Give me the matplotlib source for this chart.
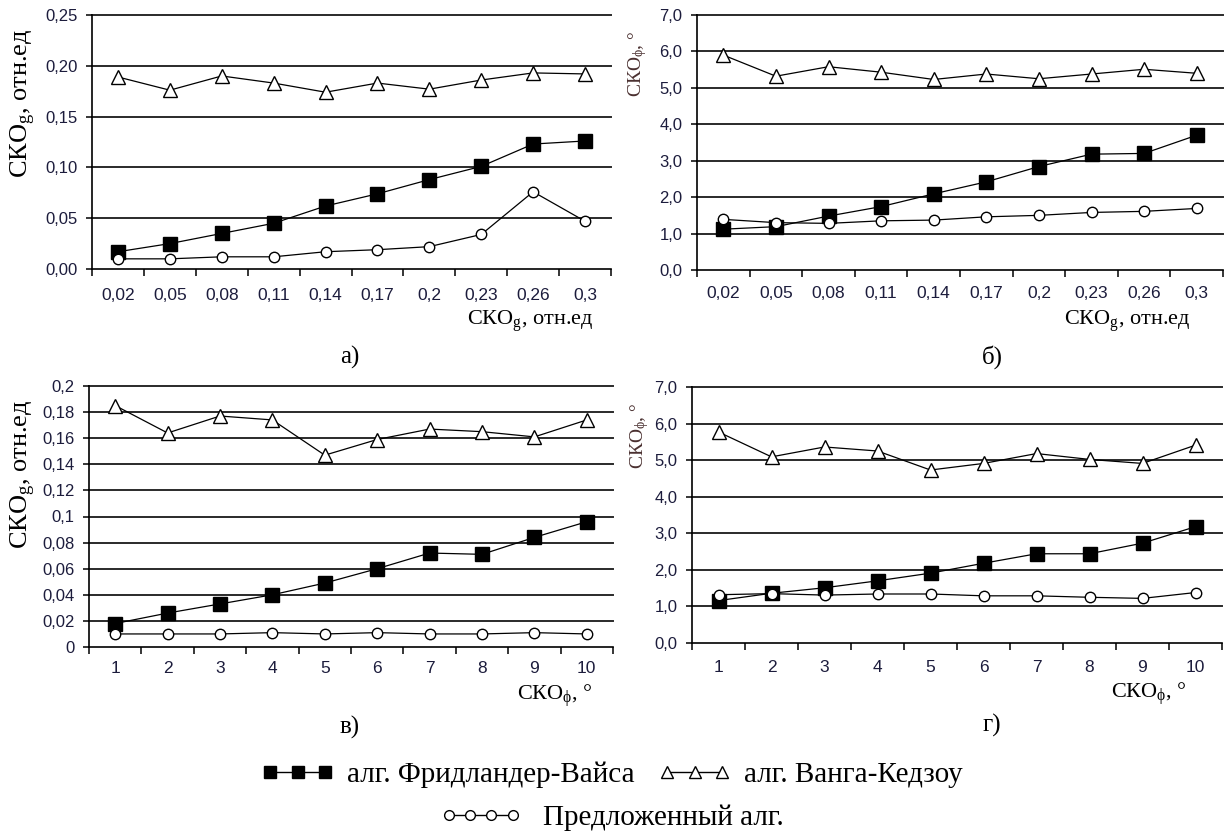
import matplotlib
matplotlib.use("Agg")
import matplotlib.pyplot as plt
from matplotlib.lines import Line2D
import numpy as np

plt.rcParams['font.family'] = ['Liberation Sans', 'DejaVu Sans']
plt.rcParams['mathtext.fontset'] = 'custom'
plt.rcParams['mathtext.rm'] = 'Liberation Serif'
plt.rcParams['mathtext.it'] = 'Liberation Serif:italic'

# данные
x_g_labels = ["0,02", "0,05", "0,08", "0,11", "0,14", "0,17", "0,2", "0,23", "0,26", "0,3"]
x_phi_labels = ["1", "2", "3", "4", "5", "6", "7", "8", "9", "10"]

a_fw = [0.017, 0.025, 0.035, 0.045, 0.062, 0.074, 0.088, 0.101, 0.123, 0.126]
a_wk = [0.189, 0.176, 0.190, 0.183, 0.174, 0.183, 0.177, 0.186, 0.193, 0.192]
a_pr = [0.010, 0.010, 0.012, 0.012, 0.017, 0.019, 0.022, 0.034, 0.076, 0.047]

b_fw = [1.12, 1.19, 1.48, 1.74, 2.09, 2.42, 2.84, 3.18, 3.20, 3.70]
b_wk = [5.90, 5.32, 5.58, 5.43, 5.23, 5.38, 5.25, 5.38, 5.51, 5.40]
b_pr = [1.39, 1.30, 1.28, 1.35, 1.37, 1.46, 1.50, 1.58, 1.61, 1.69]

c_fw = [0.018, 0.026, 0.033, 0.040, 0.049, 0.060, 0.072, 0.071, 0.084, 0.096]
c_wk = [0.185, 0.164, 0.177, 0.174, 0.147, 0.159, 0.167, 0.165, 0.161, 0.174]
c_pr = [0.010, 0.010, 0.010, 0.011, 0.010, 0.011, 0.010, 0.010, 0.011, 0.010]

d_fw = [1.16, 1.36, 1.51, 1.70, 1.91, 2.18, 2.44, 2.44, 2.73, 3.18]
d_wk = [5.77, 5.09, 5.36, 5.25, 4.73, 4.91, 5.18, 5.02, 4.91, 5.41]
d_pr = [1.32, 1.35, 1.31, 1.34, 1.34, 1.29, 1.29, 1.25, 1.22, 1.38]

yt_a = [0, 0.05, 0.10, 0.15, 0.20, 0.25]
yl_a = ["0,00", "0,05", "0,10", "0,15", "0,20", "0,25"]
yt_deg = [0, 1, 2, 3, 4, 5, 6, 7]
yl_deg = ["0,0", "1,0", "2,0", "3,0", "4,0", "5,0", "6,0", "7,0"]
yt_c = [0, 0.02, 0.04, 0.06, 0.08, 0.10, 0.12, 0.14, 0.16, 0.18, 0.20]
yl_c = ["0", "0,02", "0,04", "0,06", "0,08", "0,1", "0,12", "0,14", "0,16", "0,18", "0,2"]

names = ["алг. Фридландер-Вайса", "алг. Ванга-Кедзоу", "Предложенный алг."]

W, H = 1224, 832
fig = plt.figure(figsize=(W / 100, H / 100), dpi=100)
tick_col = '#1c1c3c'
serif = ['Liberation Serif', 'DejaVu Serif']


def px_axes(l, t, r, b):
    return fig.add_axes([l / W, 1 - b / H, (r - l) / W, (b - t) / H])


def draw(ax, fw, wk, pr, xlabels, yticks, ylabels, xpad):
    x = np.arange(1, 11)
    ax.set_xlim(0.5, 10.5)
    ax.set_ylim(yticks[0], yticks[-1])
    for y in yticks[1:]:
        ax.axhline(y, color='#2a2a2a', lw=1.4, zorder=1, clip_on=False)
    ax.plot(x, fw, '-', color='black', lw=0.9, marker='s', ms=10,
            mfc='black', mec='black', zorder=3, clip_on=False)
    ax.plot(x, wk, '-', color='black', lw=0.9, marker='^', ms=10.5,
            mfc='white', mec='black', mew=1, zorder=3, clip_on=False)
    ax.plot(x, pr, '-', color='black', lw=0.9, marker='o', ms=7.5,
            mfc='white', mec='black', mew=1, zorder=3, clip_on=False)
    for s in ['top', 'right']:
        ax.spines[s].set_visible(False)
    for s in ['left', 'bottom']:
        ax.spines[s].set_linewidth(1.2)
        ax.spines[s].set_color('black')
    ax.set_xticks(x)
    ax.set_xticklabels(xlabels, fontsize=12.5, color=tick_col)
    ax.set_xticks(np.arange(0.5, 11, 1), minor=True)
    ax.tick_params(axis='x', which='major', length=0, pad=xpad)
    ax.tick_params(axis='x', which='minor', length=5, width=1.1, direction='out')
    ax.set_yticks(yticks)
    ax.set_yticklabels(ylabels, fontsize=12, color=tick_col)
    ax.tick_params(axis='y', length=4.5, width=1.1, direction='out', pad=6)


ax_a = px_axes(92, 15, 611, 269)
draw(ax_a, a_fw, a_wk, a_pr, x_g_labels, yt_a, yl_a, 13.5)
ax_b = px_axes(697, 15, 1223, 270)
draw(ax_b, b_fw, b_wk, b_pr, x_g_labels, yt_deg, yl_deg, 11.5)
ax_c = px_axes(89, 386, 613, 647)
draw(ax_c, c_fw, c_wk, c_pr, x_phi_labels, yt_c, yl_c, 10)
ax_d = px_axes(692, 387, 1222, 643)
draw(ax_d, d_fw, d_wk, d_pr, x_phi_labels, yt_deg, yl_deg, 12.5)


def ftext(x, y, s, **kw):
    fig.text(x / W, 1 - y / H, s, family=serif, **kw)


lab_g = "СКО$_{\\mathrm{g}}$, отн.ед"
lab_phi = "СКО$_{\\mathrm{\\phi}}$, °"

# подписи осей X
ftext(593, 325, lab_g, fontsize=16, ha='right', va='baseline')
ftext(1190, 325, lab_g, fontsize=16, ha='right', va='baseline')
ftext(593, 700, lab_phi, fontsize=16, ha='right', va='baseline')
ftext(1187, 698, lab_phi, fontsize=16, ha='right', va='baseline')

# подписи осей Y
ftext(23, 103, lab_g, fontsize=19, rotation=90, ha='center', va='center')
ftext(23, 474, lab_g, fontsize=19, rotation=90, ha='center', va='center')
ftext(638, 64, lab_phi, fontsize=14, rotation=90, ha='center', va='center', color='#4a3030')
ftext(640, 436, lab_phi, fontsize=14, rotation=90, ha='center', va='center', color='#4a3030')

# буквы панелей
ftext(350, 357, "а)", fontsize=18, ha='center', va='center')
ftext(992, 357, "б)", fontsize=18, ha='center', va='center')
ftext(350, 727, "в)", fontsize=18, ha='center', va='center')
ftext(992, 725, "г)", fontsize=18, ha='center', va='center')

# легенда
h_fw = Line2D([], [], color='black', lw=1, marker='s', ms=8, mfc='black', mec='black')
h_wk = Line2D([], [], color='black', lw=1, marker='^', ms=9, mfc='white', mec='black')
h_pr = Line2D([], [], color='black', lw=1, marker='o', ms=7, mfc='white', mec='black')
prop = {'family': serif, 'size': 21}
fig.legend(handles=[h_fw, h_wk], labels=names[:2], loc='center',
           bbox_to_anchor=(0.5, 1 - 775 / H), ncol=2, frameon=False, numpoints=3,
           prop=prop, handlelength=2.5, handletextpad=0.45, columnspacing=0.8)
fig.legend(handles=[h_pr], labels=names[2:], loc='center',
           bbox_to_anchor=(0.5, 1 - 818 / H), frameon=False, numpoints=4,
           prop=prop, handlelength=2.8, handletextpad=0.75)

fig.savefig("out.png", dpi=100)
